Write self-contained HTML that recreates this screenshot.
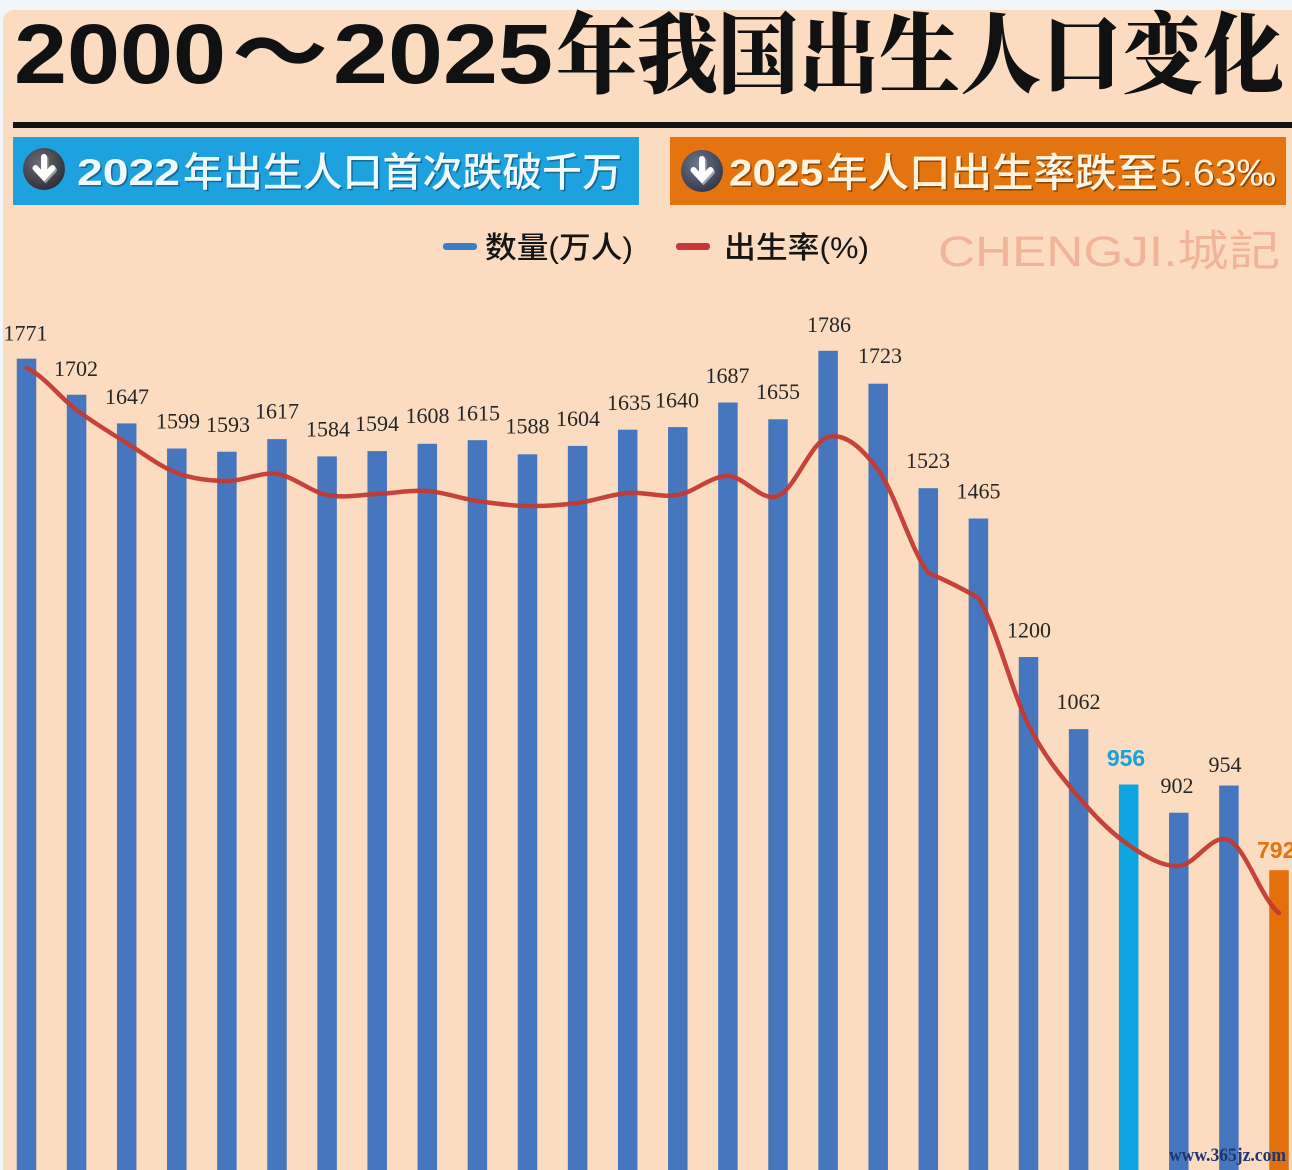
<!DOCTYPE html>
<html>
<head>
<meta charset="utf-8">
<style>
html,body{margin:0;padding:0;background:#f3f6f8;}
body{width:1292px;height:1170px;overflow:hidden;}
svg{display:block;}
</style>
</head>
<body>
<svg width="1292" height="1170" viewBox="0 0 1292 1170" xmlns="http://www.w3.org/2000/svg">
  <defs>
    <radialGradient id="ic1" cx="40%" cy="35%" r="70%">
      <stop offset="0" stop-color="#6e6e7a"/>
      <stop offset="1" stop-color="#2c2c36"/>
    </radialGradient>
    <radialGradient id="ic2" cx="40%" cy="35%" r="70%">
      <stop offset="0" stop-color="#6f7890"/>
      <stop offset="1" stop-color="#303648"/>
    </radialGradient>
  </defs>

  <!-- panel -->
  <path d="M3 22 Q3 10 15 10 H1292 V1170 H3 Z" fill="#fbdcc1"/>

  <!-- Title -->
  <g fill="#111">
    <text x="14" y="83" font-family="'Liberation Sans', sans-serif" font-weight="700" font-size="84" textLength="212" lengthAdjust="spacingAndGlyphs">2000</text>
    <text x="232" y="83" font-family="'Noto Sans CJK SC', sans-serif" font-weight="700" font-size="86" textLength="96" lengthAdjust="spacingAndGlyphs">～</text>
    <text x="333" y="83" font-family="'Liberation Sans', sans-serif" font-weight="700" font-size="84" textLength="220" lengthAdjust="spacingAndGlyphs">2025</text>
    <text x="556" y="86" font-family="'Noto Serif CJK SC', serif" font-weight="900" font-size="88" textLength="728" lengthAdjust="spacingAndGlyphs">年我国出生人口变化</text>
  </g>

  <!-- rule -->
  <rect x="13" y="122" width="1279" height="6" fill="#141414"/>

  <!-- Blue banner -->
  <rect x="13" y="137" width="626" height="68" fill="#1da2df"/>
  <circle cx="44" cy="169" r="21" fill="url(#ic1)"/>
  <g stroke="#9aa0a8" stroke-width="6" fill="none" stroke-linecap="round">
    <path d="M45.5 159 V177 M37 170 L45.5 179 L54 170"/>
  </g>
  <g stroke="#ffffff" stroke-width="6" fill="none" stroke-linecap="round">
    <path d="M44 157 V175 M35.5 168 L44 177 L52.5 168"/>
  </g>
  <g font-family="'Liberation Sans', 'Noto Sans CJK SC', sans-serif">
    <g fill="#123048" opacity="0.5">
      <text x="78.5" y="186.5" font-weight="700" font-size="37" textLength="103" lengthAdjust="spacingAndGlyphs">2022</text>
      <text x="184.5" y="187.5" font-family="'Noto Sans CJK SC', sans-serif" font-weight="500" font-size="40" textLength="439" lengthAdjust="spacingAndGlyphs">年出生人口首次跌破千万</text>
    </g>
    <g fill="#effaff">
      <text x="77" y="185" font-weight="700" font-size="37" textLength="103" lengthAdjust="spacingAndGlyphs">2022</text>
      <text x="183" y="186" font-family="'Noto Sans CJK SC', sans-serif" font-weight="500" font-size="40" textLength="439" lengthAdjust="spacingAndGlyphs">年出生人口首次跌破千万</text>
    </g>
  </g>

  <!-- Orange banner -->
  <rect x="670" y="137" width="616" height="68" fill="#e4740f"/>
  <circle cx="702" cy="171" r="21" fill="url(#ic2)"/>
  <g stroke="#9aa4b4" stroke-width="6" fill="none" stroke-linecap="round">
    <path d="M703.5 161 V179 M695 172 L703.5 181 L712 172"/>
  </g>
  <g stroke="#ffffff" stroke-width="6" fill="none" stroke-linecap="round">
    <path d="M702 159 V177 M693.5 170 L702 179 L710.5 170"/>
  </g>
  <g font-family="'Liberation Sans', 'Noto Sans CJK SC', sans-serif">
    <g fill="#3a1a05" opacity="0.5">
      <text x="730.5" y="187" font-weight="700" font-size="37" textLength="94" lengthAdjust="spacingAndGlyphs">2025</text>
      <text x="827.5" y="188" font-family="'Noto Sans CJK SC', sans-serif" font-weight="500" font-size="40" textLength="332" lengthAdjust="spacingAndGlyphs">年人口出生率跌至</text>
      <text x="1161.5" y="187" font-weight="400" font-size="37" textLength="116" lengthAdjust="spacingAndGlyphs">5.63‰</text>
    </g>
    <g fill="#fff4de">
      <text x="729" y="185.5" font-weight="700" font-size="37" textLength="94" lengthAdjust="spacingAndGlyphs">2025</text>
      <text x="826" y="186.5" font-family="'Noto Sans CJK SC', sans-serif" font-weight="500" font-size="40" textLength="332" lengthAdjust="spacingAndGlyphs">年人口出生率跌至</text>
      <text x="1160" y="185.5" font-weight="400" font-size="37" textLength="116" lengthAdjust="spacingAndGlyphs">5.63‰</text>
    </g>
  </g>

  <!-- Legend -->
  <rect x="443" y="243" width="34" height="7" rx="3" fill="#3f7cc8"/>
  <text x="485" y="258" font-family="'Liberation Sans', 'Noto Sans CJK SC', sans-serif" font-weight="500" font-size="30" fill="#151515" textLength="148" lengthAdjust="spacingAndGlyphs">数量(万人)</text>
  <rect x="676" y="243" width="34" height="7" rx="3" fill="#c8373a"/>
  <text x="724" y="258" font-family="'Liberation Sans', 'Noto Sans CJK SC', sans-serif" font-weight="500" font-size="30" fill="#151515" textLength="145" lengthAdjust="spacingAndGlyphs">出生率(%)</text>

  <!-- Watermark -->
  <text x="938" y="266" font-family="'Liberation Sans', 'Noto Sans CJK SC', sans-serif" font-size="43" fill="#efb096" opacity="0.9" textLength="342" lengthAdjust="spacingAndGlyphs">CHENGJI.城記</text>

  <!-- Bars -->
  <g fill="#4677be">
    <rect x="16.75" y="358.65" width="19.5" height="811.35"/>
    <rect x="66.85" y="394.7" width="19.5" height="775.3"/>
    <rect x="116.95" y="423.4" width="19.5" height="746.6"/>
    <rect x="167.05" y="448.5" width="19.5" height="721.5"/>
    <rect x="217.15" y="451.7" width="19.5" height="718.3"/>
    <rect x="267.25" y="439.1" width="19.5" height="730.9"/>
    <rect x="317.35" y="456.4" width="19.5" height="713.6"/>
    <rect x="367.45" y="451.1" width="19.5" height="718.9"/>
    <rect x="417.55" y="443.8" width="19.5" height="726.2"/>
    <rect x="467.65" y="440.2" width="19.5" height="729.8"/>
    <rect x="517.75" y="454.3" width="19.5" height="715.7"/>
    <rect x="567.85" y="445.9" width="19.5" height="724.1"/>
    <rect x="617.95" y="429.7" width="19.5" height="740.3"/>
    <rect x="668.05" y="427.1" width="19.5" height="742.9"/>
    <rect x="718.15" y="402.5" width="19.5" height="767.5"/>
    <rect x="768.25" y="419.3" width="19.5" height="750.7"/>
    <rect x="818.35" y="350.8" width="19.5" height="819.2"/>
    <rect x="868.45" y="383.7" width="19.5" height="786.3"/>
    <rect x="918.55" y="488.2" width="19.5" height="681.8"/>
    <rect x="968.65" y="518.5" width="19.5" height="651.5"/>
    <rect x="1018.75" y="657" width="19.5" height="513"/>
    <rect x="1068.85" y="729.1" width="19.5" height="440.9"/>
    <rect x="1169.05" y="812.7" width="19.5" height="357.3"/>
    <rect x="1219.15" y="785.5" width="19.5" height="384.5"/>
  </g>
  <rect x="1118.95" y="784.5" width="19.5" height="385.5" fill="#0fa5e3"/>
  <rect x="1269.25" y="870.2" width="19.5" height="299.8" fill="#e4700b"/>

  <!-- Rate line -->
  <path d="M26.5 368
    C43.2 375,59.9 397.5,76.6 410
    C93.3 422.5,110 432.5,126.7 443
    C143.4 453.5,160.1 466.7,176.8 473
    C193.5 479.3,210.2 480.8,226.9 481
    C243.6 481.2,260.3 471.7,277 474
    C293.7 476.3,310.4 491.7,327.1 495
    C343.8 498.3,360.5 494.7,377.2 494
    C393.9 493.3,410.6 489.8,427.3 491
    C444 492.2,460.7 498.5,477.4 501
    C494.1 503.5,510.8 505.7,527.5 506
    C544.2 506.3,560.9 505.2,577.6 503
    C594.3 500.8,611 494.3,627.7 493
    C644.4 491.7,661.1 497.8,677.8 495
    C694.5 492.2,711.2 475.8,727.9 476
    C744.6 476.2,761.3 502.5,778 496
    C794.7 489.5,811.4 441.3,828.1 437
    C844.8 432.7,861.5 447.3,878.2 470
    C894.9 492.7,911.6 551.7,928.3 573
    C945 580,961.7 588,978.4 598
    C995.1 623.3,1011.8 691.8,1028.5 725
    C1045.2 758.2,1061.9 777,1078.6 797
    C1095.3 817,1112 833.5,1128.7 845
    C1145.4 856.5,1162.1 866.8,1178.8 866
    C1195.5 865.2,1212.2 832.2,1228.9 840
    C1245.6 847.8,1262.3 900.8,1279 913"
    fill="none" stroke="#c23a33" stroke-width="4.5" stroke-linecap="round" stroke-linejoin="round" opacity="0.95"/>

  <!-- Value labels -->
  <g font-family="'Liberation Serif', serif" font-size="22" fill="#262626" text-anchor="middle">
    <text x="25.5" y="340.5">1771</text>
    <text x="76" y="376">1702</text>
    <text x="127" y="404">1647</text>
    <text x="178" y="428.5">1599</text>
    <text x="228" y="432">1593</text>
    <text x="277" y="418.5">1617</text>
    <text x="328" y="436.5">1584</text>
    <text x="377" y="431">1594</text>
    <text x="427.5" y="423">1608</text>
    <text x="478" y="420.5">1615</text>
    <text x="527.5" y="433.5">1588</text>
    <text x="578" y="426">1604</text>
    <text x="629" y="410">1635</text>
    <text x="677" y="407.5">1640</text>
    <text x="727.5" y="383">1687</text>
    <text x="778" y="399">1655</text>
    <text x="829" y="332">1786</text>
    <text x="880" y="363">1723</text>
    <text x="928" y="468">1523</text>
    <text x="978.5" y="498.5">1465</text>
    <text x="1029" y="637.5">1200</text>
    <text x="1078.5" y="709">1062</text>
    <text x="1177" y="793">902</text>
    <text x="1225" y="772">954</text>
  </g>
  <text x="1126" y="766" text-anchor="middle" font-family="'Liberation Sans', sans-serif" font-weight="700" font-size="23" fill="#15a3de">956</text>
  <text x="1257" y="858" font-family="'Liberation Sans', sans-serif" font-weight="700" font-size="23" fill="#e07414">792</text>

  <!-- bottom watermark -->
  <text x="1169" y="1161" font-family="'Liberation Serif', serif" font-weight="700" font-size="19" fill="#1f3572" textLength="117" lengthAdjust="spacingAndGlyphs">www.365jz.com</text>
</svg>
</body>
</html>
